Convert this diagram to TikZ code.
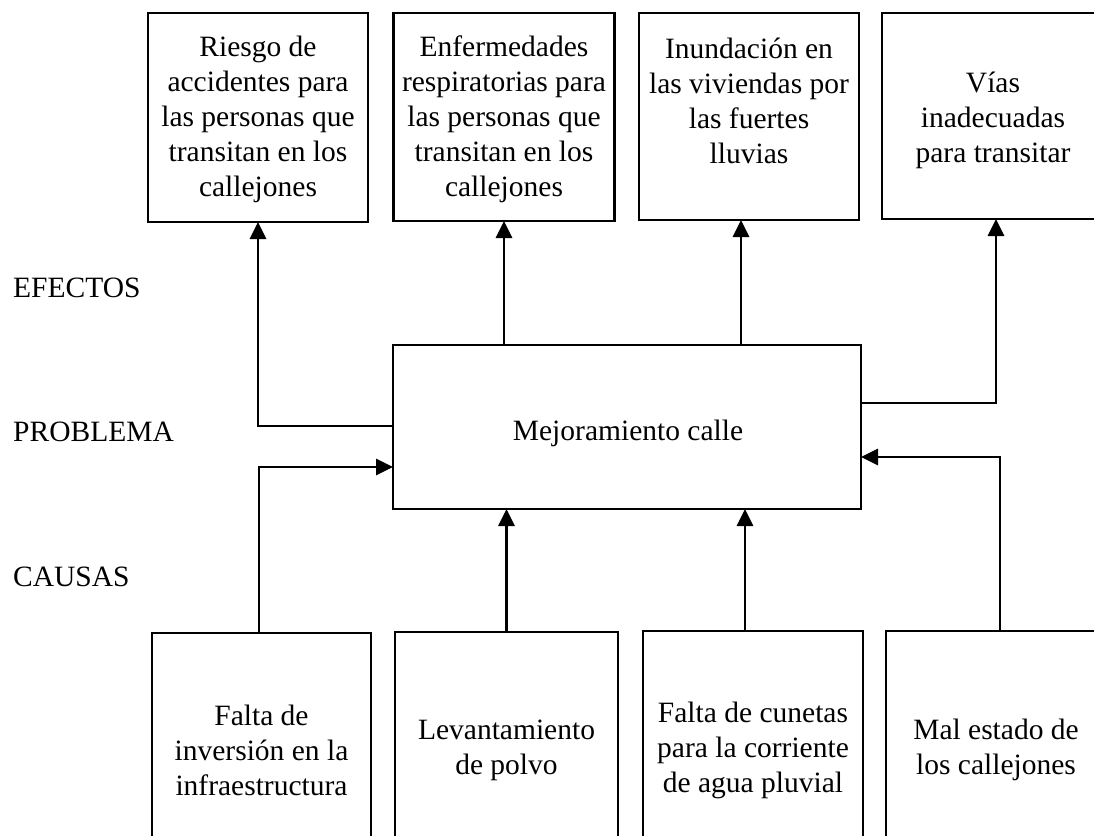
\documentclass[tikz,border=0pt]{standalone}
\usepackage{fontspec}
\setmainfont{Liberation Serif}
\usetikzlibrary{arrows.meta}
\begin{document}
\begin{tikzpicture}[x=1pt,y=-1pt,
  box/.style={draw,line width=2.2pt,inner sep=0pt,outer sep=0pt,rectangle},
  txt/.style={align=center,inner sep=0pt,font=\fontsize{29.5}{35}\selectfont},
  lbl/.style={anchor=west,inner sep=0pt,font=\fontsize{29.5}{35}\selectfont},
  arr/.style={line width=2.8pt,-{Triangle[length=17pt,width=16pt]}}]
\useasboundingbox (0,0) rectangle (1094,835);
% top boxes (effects)
\node[box,minimum width=220pt,minimum height=209pt] (t1) at (258,117.5) {};
\node[box,minimum width=221pt,minimum height=208pt] (t2) at (504,117) {};
\node[box,minimum width=220pt,minimum height=207pt] (t3) at (749,116.5) {};
\node[box,minimum width=222pt,minimum height=206pt] (t4) at (993,116) {};
\node[txt] (t1x) at (258,119) {Riesgo de\\accidentes para\\las personas que\\transitan en los\\callejones};
\node[txt] (t2x) at (504,119) {Enfermedades\\respiratorias para\\las personas que\\transitan en los\\callejones};
\node[txt] (t3x) at (749,101) {Inundación en\\las viviendas por\\las fuertes\\lluvias};
\node[txt] (t4x) at (993,120) {Vías\\inadecuadas\\para transitar};
% central problem
\node[box,minimum width=468pt,minimum height=164pt] (ctr) at (627,427) {};
\node[txt] (ctrx) at (628,433) {Mejoramiento calle};
% bottom boxes (causes)
\node[box,minimum width=219pt,minimum height=250pt] (b1) at (261.5,758) {};
\node[box,minimum width=223pt,minimum height=250pt] (b2) at (506.5,757) {};
\node[box,minimum width=220pt,minimum height=250pt] (b3) at (753,756) {};
\node[box,minimum width=220pt,minimum height=250pt] (b4) at (996,756) {};
\node[txt] (b1x) at (261.5,750) {Falta de\\inversión en la\\infraestructura};
\node[txt] (b2x) at (506.5,750) {Levantamiento\\de polvo};
\node[txt] (b3x) at (753,750) {Falta de cunetas\\para la corriente\\de agua pluvial};
\node[txt] (b4x) at (996,750) {Mal estado de\\los callejones};
% side labels
\node[lbl] (lef) at (13,288) {EFECTOS};
\node[lbl] (lpr) at (13,432) {PROBLEMA};
\node[lbl] (lca) at (13,577) {CAUSAS};
% connector bends
\coordinate (a1) at (258,426);
\coordinate (a3) at (741,0);
\coordinate (a4) at (996,403);
\coordinate (c1) at (259,467);
\coordinate (c3) at (745,0);
\coordinate (c4) at (1000,457);
% effects arrows
\draw[arr] (ctr.west |- a1) -- (a1) -- (a1 |- t1.south);
\draw[arr] (ctr.north -| t2.south) -- (t2.south);
\draw[arr] (a3 |- ctr.north) -- (a3 |- t3.south);
\draw[arr] (ctr.east |- a4) -- (a4) -- (a4 |- t4.south);
% causes arrows
\draw[arr] (c1 |- b1.north) -- (c1) -- (c1 -| ctr.west);
\draw[arr] (b2.north) -- (b2.north |- ctr.south);
\draw[arr] (c3 |- b3.north) -- (c3 |- ctr.south);
\draw[arr] (c4 |- b4.north) -- (c4) -- (c4 -| ctr.east);
\end{tikzpicture}
\end{document}
